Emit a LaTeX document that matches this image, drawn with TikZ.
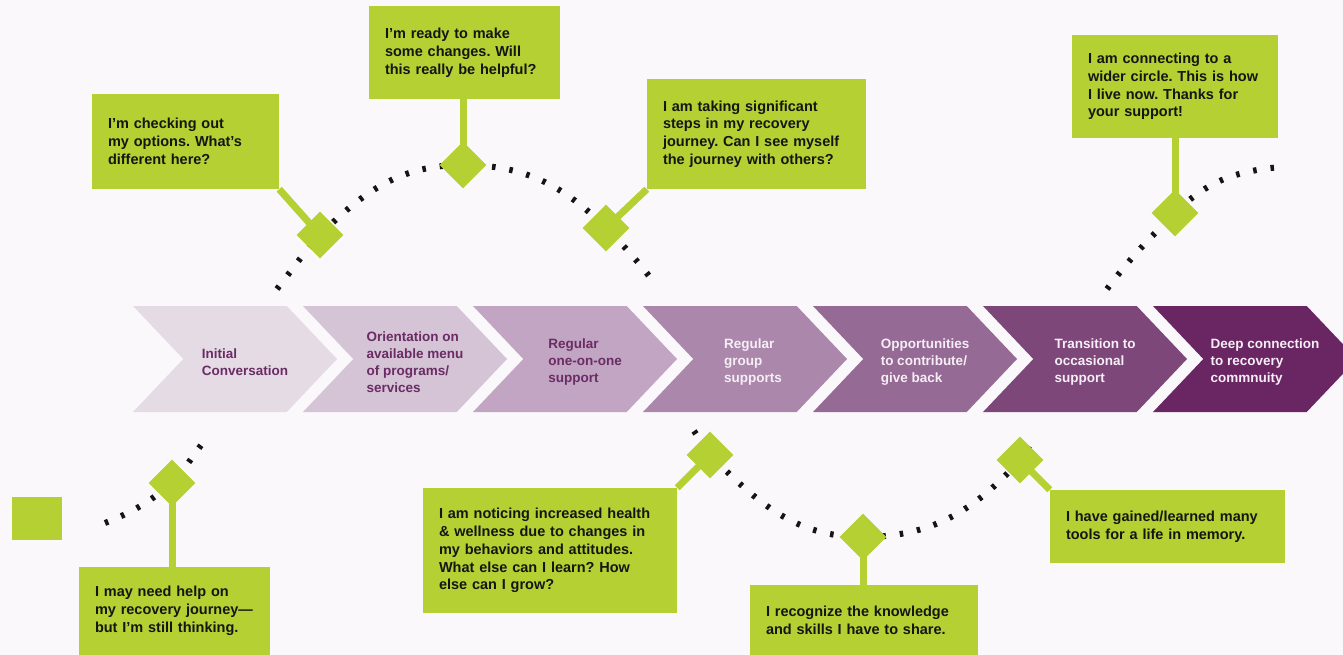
\documentclass[tikz,border=0pt]{standalone}
\usepackage{fontspec}
\setmainfont{Liberation Sans}
\usepackage{tikz}
\usetikzlibrary{positioning,shapes.geometric,shapes.symbols}
\AtBeginDocument{\frenchspacing}
\definecolor{Leaf}{HTML}{B5D032}
\definecolor{Paper}{HTML}{FAF8FB}
\definecolor{Ink}{HTML}{151515}
\definecolor{Plum}{HTML}{6A2C64}
\definecolor{Mist}{HTML}{F6EEF6}
\definecolor{StageA}{HTML}{E4DBE5}
\definecolor{StageB}{HTML}{D5C3D6}
\definecolor{StageC}{HTML}{C2A5C3}
\definecolor{StageD}{HTML}{AB88AB}
\definecolor{StageE}{HTML}{956A94}
\definecolor{StageF}{HTML}{7E477A}
\definecolor{StageG}{HTML}{6A2563}

\begin{document}
\begin{tikzpicture}[
  x=1pt, y=-1pt,
  every node/.style={font=\bfseries},
  stage/.style={signal,signal to=east,signal from=west,signal pointer angle=93,
    minimum width=204pt,minimum height=106pt,inner sep=0pt},
  stagetext/.style={align=left,font=\fontsize{13.5}{17}\selectfont\bfseries},
  box/.style={fill=Leaf,align=left,inner xsep=16pt,inner ysep=0pt,text=Ink,
    font=\fontsize{14.5}{17.8}\selectfont\bfseries},
  gem/.style={diamond,fill=Leaf,minimum width=47pt,minimum height=47pt,inner sep=0pt},
  stem/.style={draw=Leaf,line width=7pt},
  dots/.style={draw=Ink,line width=6pt,dash pattern=on 3.5pt off 14pt}
]
  \useasboundingbox (0,0) rectangle (1343,655);
  \fill[Paper] (0,0) rectangle (1343,655);

  % stages of the journey
  \node[stage,fill=StageA] (ch1) at (235,359) {};
  \node[stage,fill=StageB] (ch2) at (405,359) {};
  \node[stage,fill=StageC] (ch3) at (575,359) {};
  \node[stage,fill=StageD] (ch4) at (745,359) {};
  \node[stage,fill=StageE] (ch5) at (915,359) {};
  \node[stage,fill=StageF] (ch6) at (1085,359) {};
  \node[stage,fill=StageG] (ch7) at (1255,359) {};
  \node[stagetext,text=Plum] (t1) at ([xshift=10pt,yshift=-3pt]ch1.center) {Initial\\Conversation};
  \node[stagetext,text=Plum] (t2) at ([xshift=10pt,yshift=-3pt]ch2.center) {Orientation on\\available menu\\of programs/\\services};
  \node[stagetext,text=Plum] (t3) at ([xshift=10pt,yshift=-3pt]ch3.center) {Regular\\one-on-one\\support};
  \node[stagetext,text=Mist] (t4) at ([xshift=8pt,yshift=-3pt]ch4.center) {Regular\\group\\supports};
  \node[stagetext,text=Mist] (t5) at ([xshift=10pt,yshift=-3pt]ch5.center) {Opportunities\\to contribute/\\give back};
  \node[stagetext,text=Mist] (t6) at ([xshift=10pt,yshift=-3pt]ch6.center) {Transition to\\occasional\\support};
  \node[stagetext,text=Mist] (t7) at ([xshift=10pt,yshift=-3pt]ch7.center) {Deep connection\\to recovery\\commnuity};

  % dotted paths through the stops
  \coordinate (pA) at (320,235);
  \coordinate (pB) at (463,165);
  \coordinate (pC) at (606,228);
  \coordinate (pD) at (1175,213);
  \coordinate (pE) at (172,483);
  \coordinate (pF) at (710,455);
  \coordinate (pG) at (863,537);
  \coordinate (pH) at (1020,460);
  \coordinate (u0) at (277,289);
  \coordinate (u1) at (653,281);
  \coordinate (r0) at (1107,289);
  \coordinate (r1) at (1281,167);
  \coordinate (l0) at (105,523);
  \coordinate (l1) at (208,436);
  \coordinate (m0) at (694,431);
  \coordinate (m1) at (1036,436);
  \draw[dots] (u0) to[out=52,in=-132] (pA) to[out=45,in=180] (pB)
    to[out=0,in=135] (pC) to[out=-45,in=128] (u1);
  \draw[dots] (r0) to[out=53,in=-135] (pD) to[out=45,in=185] (r1);
  \draw[dots] (l0) to[out=22,in=-140] (pE) to[out=48,in=-128] (l1);
  \draw[dots] (m0) to[out=-55,in=125] (pF) to[out=-45,in=180] (pG)
    to[out=0,in=-132] (pH) to[out=50,in=-125] (m1);

  % stops
  \node[gem] (dA) at (pA) {};
  \node[gem] (dB) at (pB) {};
  \node[gem] (dC) at (pC) {};
  \node[gem] (dD) at (pD) {};
  \node[gem] (dE) at (pE) {};
  \node[gem] (dF) at (pF) {};
  \node[gem] (dG) at (pG) {};
  \node[gem] (dH) at (pH) {};

  % thoughts above
  \node[box,text width=155pt,minimum height=95pt] (bA) at (185.5,141.5) {I'm checking out\\my options. What's\\different here?};
  \node[box,text width=159pt,minimum height=93pt] (bB) at (464.5,52.5) {I'm ready to make\\some changes. Will\\this really be helpful?};
  \node[box,text width=187pt,minimum height=110pt] (bC) at (756.5,134) {I am taking significant\\steps in my recovery\\journey. Can I see myself\\the journey with others?};
  \node[box,text width=174pt,minimum height=103pt] (bD) at (1175,86.5) {I am connecting to a\\wider circle. This is how\\I live now. Thanks for\\your support!};
  % thoughts below
  \node[box,text width=159pt,minimum height=88pt] (bE) at (174.5,611) {I may need help on\\my recovery journey—\\but I'm still thinking.};
  \node[box,text width=222pt,minimum height=125pt] (bF) at (550,550.5) {I am noticing increased health\\\& wellness due to changes in\\my behaviors and attitudes.\\What else can I learn? How\\else can I grow?};
  \node[box,text width=196pt,minimum height=70pt] (bG) at (864,620) {I recognize the knowledge\\and skills I have to share.};
  \node[box,text width=203pt,minimum height=73pt] (bH) at (1167.5,526.5) {I have gained/learned many\\tools for a life in memory.};
  \node[fill=Leaf,minimum width=50pt,minimum height=43pt,inner sep=0pt] (key) at (37,518.5) {};

  \draw[stem] (bA.south east) -- (dA.center);
  \draw[stem] (dB.center) -- (dB |- bB.south);
  \draw[stem] (bC.south west) -- (dC.center);
  \draw[stem] (dD.center) -- (dD |- bD.south);
  \draw[stem] (dE.center) -- (dE |- bE.north);
  \draw[stem] (bF.north east) -- (dF.center);
  \draw[stem] (dG.center) -- (dG |- bG.north);
  \draw[stem] (bH.north west) -- (dH.center);
\end{tikzpicture}
\end{document}
